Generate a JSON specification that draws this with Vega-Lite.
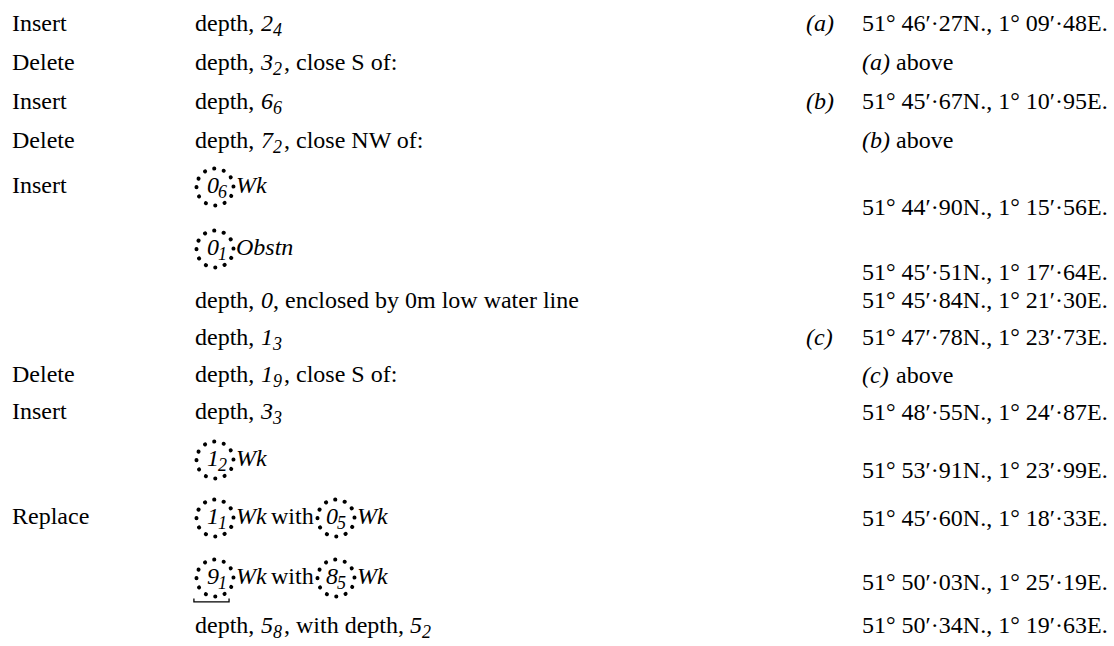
{
  "$schema": "https://vega.github.io/schema/vega-lite/v6.json",
  "width": 1114,
  "height": 646,
  "autosize": "none",
  "padding": 0,
  "background": "#ffffff",
  "config": {"view": {"stroke": null}, "font": "Liberation Serif", "text": {"font": "Liberation Serif"}},
  "data": {
    "values": [
      {"line": 1, "tab": 1, "kind": "action", "text": "Insert"},
      {"line": 1, "tab": 2, "kind": "plain", "text": "depth,"},
      {"line": 1, "tab": 3, "kind": "sounding", "text": "2"},
      {"line": 1, "tab": 4, "kind": "sub", "text": "4"},

      {"line": 2, "tab": 1, "kind": "action", "text": "Delete"},
      {"line": 2, "tab": 2, "kind": "plain", "text": "depth,"},
      {"line": 2, "tab": 3, "kind": "sounding", "text": "3"},
      {"line": 2, "tab": 4, "kind": "sub", "text": "2"},
      {"line": 2, "tab": 5, "kind": "plain", "text": ", close S of:"},

      {"line": 3, "tab": 1, "kind": "action", "text": "Insert"},
      {"line": 3, "tab": 2, "kind": "plain", "text": "depth,"},
      {"line": 3, "tab": 3, "kind": "sounding", "text": "6"},
      {"line": 3, "tab": 4, "kind": "sub", "text": "6"},

      {"line": 4, "tab": 1, "kind": "action", "text": "Delete"},
      {"line": 4, "tab": 2, "kind": "plain", "text": "depth,"},
      {"line": 4, "tab": 3, "kind": "sounding", "text": "7"},
      {"line": 4, "tab": 4, "kind": "sub", "text": "2"},
      {"line": 4, "tab": 5, "kind": "plain", "text": ", close NW of:"},

      {"line": 5, "tab": 1, "kind": "action", "text": "Insert"},
      {"line": 5, "tab": 9, "kind": "ring", "text": ""},
      {"line": 5, "tab": 10, "kind": "sounding", "text": "0"},
      {"line": 5, "tab": 11, "kind": "sub", "text": "6"},
      {"line": 5, "tab": 12, "kind": "feature", "text": "Wk"},

      {"line": 6, "tab": 9, "kind": "ring", "text": ""},
      {"line": 6, "tab": 10, "kind": "sounding", "text": "0"},
      {"line": 6, "tab": 11, "kind": "sub", "text": "1"},
      {"line": 6, "tab": 12, "kind": "feature", "text": "Obstn"},

      {"line": 7, "tab": 2, "kind": "plain", "text": "depth,"},
      {"line": 7, "tab": 3, "kind": "sounding", "text": "0"},
      {"line": 7, "tab": 6, "kind": "plain", "text": ", enclosed by 0m low water line"},

      {"line": 8, "tab": 2, "kind": "plain", "text": "depth,"},
      {"line": 8, "tab": 3, "kind": "sounding", "text": "1"},
      {"line": 8, "tab": 4, "kind": "sub", "text": "3"},

      {"line": 9, "tab": 1, "kind": "action", "text": "Delete"},
      {"line": 9, "tab": 2, "kind": "plain", "text": "depth,"},
      {"line": 9, "tab": 3, "kind": "sounding", "text": "1"},
      {"line": 9, "tab": 4, "kind": "sub", "text": "9"},
      {"line": 9, "tab": 5, "kind": "plain", "text": ", close S of:"},

      {"line": 10, "tab": 1, "kind": "action", "text": "Insert"},
      {"line": 10, "tab": 2, "kind": "plain", "text": "depth,"},
      {"line": 10, "tab": 3, "kind": "sounding", "text": "3"},
      {"line": 10, "tab": 4, "kind": "sub", "text": "3"},

      {"line": 11, "tab": 9, "kind": "ring", "text": ""},
      {"line": 11, "tab": 10, "kind": "sounding", "text": "1"},
      {"line": 11, "tab": 11, "kind": "sub", "text": "2"},
      {"line": 11, "tab": 12, "kind": "feature", "text": "Wk"},

      {"line": 12, "tab": 1, "kind": "action", "text": "Replace"},
      {"line": 12, "tab": 9, "kind": "ring", "text": ""},
      {"line": 12, "tab": 10, "kind": "sounding", "text": "1"},
      {"line": 12, "tab": 11, "kind": "sub", "text": "1"},
      {"line": 12, "tab": 12, "kind": "feature", "text": "Wk"},
      {"line": 12, "tab": 13, "kind": "plain", "text": "with"},
      {"line": 12, "tab": 14, "kind": "ring", "text": ""},
      {"line": 12, "tab": 15, "kind": "sounding", "text": "0"},
      {"line": 12, "tab": 16, "kind": "sub", "text": "5"},
      {"line": 12, "tab": 17, "kind": "feature", "text": "Wk"},

      {"line": 13, "tab": 9, "kind": "ring", "text": "", "underlined": true},
      {"line": 13, "tab": 10, "kind": "sounding", "text": "9"},
      {"line": 13, "tab": 11, "kind": "sub", "text": "1"},
      {"line": 13, "tab": 12, "kind": "feature", "text": "Wk"},
      {"line": 13, "tab": 13, "kind": "plain", "text": "with"},
      {"line": 13, "tab": 14, "kind": "ring", "text": ""},
      {"line": 13, "tab": 15, "kind": "sounding", "text": "8"},
      {"line": 13, "tab": 16, "kind": "sub", "text": "5"},
      {"line": 13, "tab": 17, "kind": "feature", "text": "Wk"},

      {"line": 14, "tab": 2, "kind": "plain", "text": "depth,"},
      {"line": 14, "tab": 3, "kind": "sounding", "text": "5"},
      {"line": 14, "tab": 4, "kind": "sub", "text": "8"},
      {"line": 14, "tab": 5, "kind": "plain", "text": ", with depth,"},
      {"line": 14, "tab": 7, "kind": "sounding", "text": "5"},
      {"line": 14, "tab": 8, "kind": "sub", "text": "2"},

      {"line": 101, "tab": 18, "kind": "ref", "text": "(a)"},
      {"line": 101, "tab": 19, "kind": "plain", "text": "51° 46′·27N., 1° 09′·48E."},
      {"line": 102, "tab": 19, "kind": "ref", "text": "(a)"},
      {"line": 102, "tab": 20, "kind": "plain", "text": "above"},
      {"line": 103, "tab": 18, "kind": "ref", "text": "(b)"},
      {"line": 103, "tab": 19, "kind": "plain", "text": "51° 45′·67N., 1° 10′·95E."},
      {"line": 104, "tab": 19, "kind": "ref", "text": "(b)"},
      {"line": 104, "tab": 20, "kind": "plain", "text": "above"},
      {"line": 105, "tab": 19, "kind": "plain", "text": "51° 44′·90N., 1° 15′·56E."},
      {"line": 106, "tab": 19, "kind": "plain", "text": "51° 45′·51N., 1° 17′·64E."},
      {"line": 107, "tab": 19, "kind": "plain", "text": "51° 45′·84N., 1° 21′·30E."},
      {"line": 108, "tab": 18, "kind": "ref", "text": "(c)"},
      {"line": 108, "tab": 19, "kind": "plain", "text": "51° 47′·78N., 1° 23′·73E."},
      {"line": 109, "tab": 19, "kind": "ref", "text": "(c)"},
      {"line": 109, "tab": 20, "kind": "plain", "text": "above"},
      {"line": 110, "tab": 19, "kind": "plain", "text": "51° 48′·55N., 1° 24′·87E."},
      {"line": 111, "tab": 19, "kind": "plain", "text": "51° 53′·91N., 1° 23′·99E."},
      {"line": 112, "tab": 19, "kind": "plain", "text": "51° 45′·60N., 1° 18′·33E."},
      {"line": 113, "tab": 19, "kind": "plain", "text": "51° 50′·03N., 1° 25′·19E."},
      {"line": 114, "tab": 19, "kind": "plain", "text": "51° 50′·34N., 1° 19′·63E."}
    ]
  },
  "encoding": {
    "x": {
      "field": "tab", "type": "quantitative", "axis": null,
      "scale": {
        "domain": [1, 2, 3, 4, 5, 6, 7, 8, 9, 10, 11, 12, 13, 14, 15, 16, 17, 18, 19, 20],
        "range": [12, 195, 261, 273, 284, 273, 410, 422, 215, 207, 218, 236, 271, 336, 326, 337, 357, 806, 862, 896],
        "nice": false, "zero": false
      }
    },
    "y": {
      "field": "line", "type": "quantitative", "axis": null,
      "scale": {
        "domain": [1, 2, 3, 4, 5, 6, 7, 8, 9, 10, 11, 12, 13, 14, 101, 102, 103, 104, 105, 106, 107, 108, 109, 110, 111, 112, 113, 114],
        "range": [31, 70, 109, 148, 193, 255, 308, 345, 382, 419, 466, 524, 584, 633, 31, 70, 109, 148, 215, 280, 308, 345, 383, 420, 478, 526, 590, 633],
        "nice": false, "zero": false
      }
    }
  },
  "layer": [
    {
      "transform": [{"filter": "datum.kind === 'action' || datum.kind === 'plain'"}],
      "mark": {"type": "text", "align": "left", "baseline": "alphabetic", "font": "Liberation Serif", "fontSize": 24, "color": "#000000"},
      "encoding": {"text": {"field": "text"}}
    },
    {
      "transform": [{"filter": "datum.kind === 'sounding' || datum.kind === 'feature' || datum.kind === 'ref'"}],
      "mark": {"type": "text", "align": "left", "baseline": "alphabetic", "font": "Liberation Serif", "fontSize": 24, "fontStyle": "italic", "color": "#000000"},
      "encoding": {"text": {"field": "text"}}
    },
    {
      "transform": [{"filter": "datum.kind === 'sub'"}],
      "mark": {"type": "text", "align": "left", "baseline": "alphabetic", "font": "Liberation Serif", "fontSize": 18, "fontStyle": "italic", "dy": 5, "color": "#000000"},
      "encoding": {"text": {"field": "text"}}
    },
    {
      "transform": [{"filter": "datum.kind === 'ring'"}],
      "mark": {"type": "point", "shape": "M-1,-0.32A1,1,0,1,0,1,-0.32A1,1,0,1,0,-1,-0.32Z", "size": 1369, "filled": false, "stroke": "#000000", "strokeWidth": 4, "strokeDash": [0.1, 9.6], "strokeCap": "round", "opacity": 1}
    },
    {
      "transform": [{"filter": "datum.kind === 'ring' && datum.underlined === true"}],
      "mark": {"type": "point", "shape": "M-1.14,0.78L-1.14,0.97L0.76,0.97L0.76,0.78", "size": 1369, "filled": false, "stroke": "#000000", "strokeWidth": 1.3, "opacity": 1}
    }
  ]
}
